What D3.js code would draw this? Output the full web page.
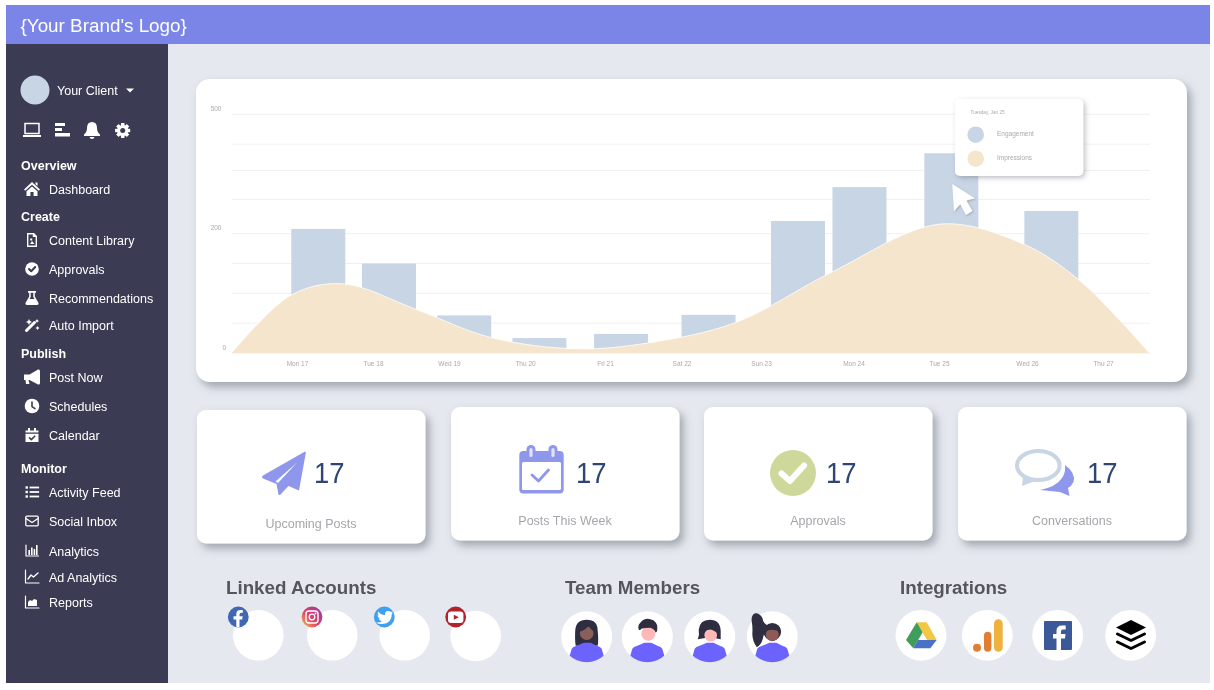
<!DOCTYPE html>
<html><head><meta charset="utf-8">
<script src="https://cdnjs.cloudflare.com/ajax/libs/d3/7.8.5/d3.min.js"></script>
<style>html,body{margin:0;padding:0;background:#fff}svg{display:block;filter:blur(0.3px)}text{font-family:"Liberation Sans",Arial,sans-serif}</style>
</head><body><svg id="c" width="1214" height="690"></svg>
<script>
// ---- data ----
const days=[17,18,19,20,21,22,23,24,25,26,27];
const dayLabels=["Mon 17","Tue 18","Wed 19","Thu 20","Fri 21","Sat 22","Sun 23","Mon 24","Tue 25","Wed 26","Thu 27"];
const barDays=[17.28,18.21,19.2,20.18,21.21,22.34,23.4,24.07,25.14,26.32];
const engagement=[212,150,63,25,32,64,232,317,402,257];
const impressionDays=[16.14,16.92,17.6,18.57,19.55,20.65,21.57,22.68,23.77,25.01,25.97,26.67,27.22,27.61];
const impressions=[0,97,116,73,26,7,17,51,136,224,182,124,55,0];
const gridValues=[0,50,100,150,200,286,359,425,500];
const yTicks=[0,200,500];
const seriesNames=["Engagement","Impressions"];
const cardLabels=["Upcoming Posts","Posts This Week","Approvals","Conversations"];
const cardValues=[17,17,17,17];
const sectionTitles=["Linked Accounts","Team Members","Integrations"];
const navHeads=["Overview","Create","Publish","Monitor"];
const navLabels=["Dashboard","Content Library","Approvals","Recommendations","Auto Import","Post Now","Schedules","Calendar","Activity Feed","Social Inbox","Analytics","Ad Analytics","Reports"];

// ---- layout ----
const navHeadY=[165,216,353,468];
const navY=[189,240,269,298,325,377,406,435,492,521,551,577,602];
const tickX=[297,373,449,525,605,681.5,761,853.5,939,1027,1103];
const C={head:"#7b85e8",side:"#3b3b53",bg:"#e5e8ee",bar:"#c8d5e5",area:"#f5e5cd",grid:"#eef0f3",num:"#2f4574",plane:"#8f97ec"};
const svg=d3.select("#c");
const defs=svg.append("defs");
function shadow(id,dx,dy,b,o){const f=defs.append("filter").attr("id",id).attr("x","-10%").attr("y","-15%").attr("width","125%").attr("height","140%");
 f.append("feDropShadow").attr("dx",dx).attr("dy",dy).attr("stdDeviation",b).attr("flood-color","#5d6470").attr("flood-opacity",o);}
shadow("s1",4,5,4,.5);shadow("s2",2,2,2.5,.4);shadow("s3",1,1,1,.4);
const ig=defs.append("linearGradient").attr("id","ig").attr("x1",0).attr("y1",1).attr("x2",1).attr("y2",0);
[["0","#f9c048"],["0.45","#e0406a"],["1","#8b3aa8"]].forEach(s=>ig.append("stop").attr("offset",s[0]).attr("stop-color",s[1]));

const rect=(g,x,y,w,h,f,r)=>g.append("rect").attr("x",x).attr("y",y).attr("width",w).attr("height",h).attr("fill",f).attr("rx",r||0);
const circ=(g,x,y,r,f)=>g.append("circle").attr("cx",x).attr("cy",y).attr("r",r).attr("fill",f);
const path=(g,d,f)=>g.append("path").attr("d",d).attr("fill",f||"none");
const stroke=(g,d,c,w)=>g.append("path").attr("d",d).attr("fill","none").attr("stroke",c).attr("stroke-width",w).attr("stroke-linecap","round").attr("stroke-linejoin","round");
const text=(g,x,y,s,size,fill,o)=>{o=o||{};return g.append("text").attr("x",x).attr("y",y).attr("dy","0.35em").attr("font-size",size).attr("fill",fill).attr("font-weight",o.w||400).attr("text-anchor",o.a||"start").text(s);};

// ---- frame ----
rect(svg,6,44,1204,639,C.bg);
rect(svg,6,5,1204,39,C.head);
rect(svg,6,44,162,639,C.side);
text(svg,20.5,25.5,"{Your Brand's Logo}",18.85,"#fff");

// ---- sidebar ----
circ(svg,35,90,14.5,C.bar);
text(svg,57,90.8,"Your Client",12.5,"#fff");
path(svg,"M126 88.5H134L130 92.5Z","#fff");
const W="#fff",D=C.side;
const toolRow=svg.append("g");
toolRow.append("rect").attr("x",25).attr("y",123.5).attr("width",14).attr("height",10).attr("fill","none").attr("stroke",W).attr("stroke-width",1.5);
rect(toolRow,23,135,18,2,W);
rect(toolRow,55,123,10,3,W);rect(toolRow,55,128,7,3,W);rect(toolRow,55,133,15,3.5,W);
path(toolRow,"M92 122Q97 122 97 128Q97 132 100 134.5V136H84V134.5Q87 132 87 128Q87 122 92 122Z M89.5 137H94.5Q94 139 92 139Q90 139 89.5 137Z",W);
const gear=toolRow.append("g").attr("transform","translate(122.7,130.5)");
d3.range(8).forEach(i=>gear.append("rect").attr("x",-1.6).attr("y",-7.4).attr("width",3.2).attr("height",14.8).attr("fill",W).attr("transform",`rotate(${i*45})`));
circ(gear,0,0,5.6,W);circ(gear,0,0,2.5,D);

const icons=[
 g=>{path(g,"M-8 0.5L0-7L8 0.5L6.8 1.8L0-4.2L-6.8 1.8Z M-5.5 2.2L0-2.6L5.5 2.2V7H1.6V3H-1.6V7H-5.5Z M3.5-6.5H5.5V-3L3.5-4.7Z",W);},
 g=>{path(g,"M-5-7H2L5-4V7H-5Z",W);path(g,"M-3.6-5.6V5.6H3.6V-3H0.8V-5.6Z",D);path(g,"M-2 4L0 1L2.5 4Z M-1.8-1.5h2v2h-2Z",W);},
 g=>{circ(g,0,0,6.8,W);stroke(g,"M-3 0L-0.8 2.3L3.2-2",D,2);},
 g=>{path(g,"M-4-7H4V-5.3H2.8V-1.5L6.5 5Q7 7 5 7H-5Q-7 7-6.5 5L-2.8-1.5V-5.3H-4Z",W);path(g,"M-1.3-5.3H1.3V-1L2.5 1H-2.5L-1.3-1Z",D);},
 g=>{stroke(g,"M-5.5 5.5L2.5-2.5",W,3);path(g,"M-3-6l1 2 2 1-2 1-1 2-1-2-2-1 2-1Z M5-6l.7 1.3 1.3.7-1.3.7L5-2l-.7-1.3L3-4l1.3-.7Z M5.5 1l.7 1.3 1.3.7-1.3.7-.7 1.3-.7-1.3-1.3-.7 1.3-.7Z",W);},
 g=>{path(g,"M-8-2.5H-2.5L6-7.5Q8-8 8-6V6Q8 8 6 7.5L-2.5 3H-3.5L-2.5 7H-6L-6.5 3H-8Z",W);path(g,"M5.2-5V5L-1.5 1.5V-1.5Z",W);},
 g=>{circ(g,0,0,7.3,W);stroke(g,"M0-4V0.6L3 2.6",D,1.6);},
 g=>{path(g,"M-6.5-4.5H-4V-7H-2V-4.5H2V-7H4V-4.5H6.5V-2.5H-6.5Z M-6.5-1.2H6.5V7H-6.5Z",W);stroke(g,"M-2.5 2.8L-0.7 4.6L2.7 1.2",D,1.6);},
 g=>{[-4.5,0,4.5].forEach(y=>{rect(g,-6.5,y-1.2,2.4,2.4,W);rect(g,-2.4,y-0.9,9.5,1.8,W);});},
 g=>{g.append("rect").attr("x",-6.2).attr("y",-4.8).attr("width",12.4).attr("height",9.6).attr("rx",1).attr("fill","none").attr("stroke",W).attr("stroke-width",1.3);stroke(g,"M-6-2.5L0 1.5L6-2.5",W,1.3);},
 g=>{stroke(g,"M-6-6V5H6.5",W,1.2);[-3.6,-1,1.6,4].forEach((x,i)=>rect(g,x,[-1,-3.5,-2,-6][i],1.6,[5,7.5,6,10][i],W));},
 g=>{stroke(g,"M-6.5-7V6H7",W,1.2);stroke(g,"M-4 2L-1-2L1.5 0L6-4",W,1.4);},
 g=>{stroke(g,"M-6.5-6V6H7",W,1.2);path(g,"M-4 4V0L-2-2L0-1L2-3L5-2V4Z",W);}
];
navHeads.forEach((h,i)=>text(svg,21,navHeadY[i]+0.8,h,12.5,"#fff",{w:700}));
navLabels.forEach((l,i)=>{text(svg,49,navY[i]+0.8,l,12.5,"#fff");icons[i](svg.append("g").attr("transform",`translate(32,${navY[i]})`));});

// ---- chart card ----
rect(svg,196,79,991,303,"#fff",14).attr("filter","url(#s1)");
const y=d3.scaleLinear().domain([0,200,500]).range([353,233.7,114.3]);
const x=d3.scaleLinear().domain(days).range(tickX);
const chart=svg.append("g");
chart.selectAll("line.g").data(gridValues).join("line").attr("class","g")
 .attr("x1",232).attr("x2",1150).attr("y1",d=>y(d)).attr("y2",d=>y(d)).attr("stroke",C.grid).attr("stroke-width",1);
const barW=54;
chart.selectAll("rect.b").data(engagement).join("rect").attr("class","b")
 .attr("x",(d,i)=>x(barDays[i])-barW/2).attr("width",barW)
 .attr("y",d=>y(d)).attr("height",d=>y(0)-y(d)).attr("fill",C.bar);
const smooth=d3.curveCatmullRom.alpha(0.5);
const area=d3.area().x((d,i)=>x(impressionDays[i])).y0(y(0)).y1(d=>y(d)).curve(smooth);
const topLine=d3.line().x((d,i)=>x(impressionDays[i])).y(d=>y(d)).curve(smooth);
chart.append("path").attr("d",area(impressions)).attr("fill",C.area);
chart.append("path").attr("d",topLine(impressions)).attr("fill","none").attr("stroke","#fff").attr("stroke-width",.8);

const xAxis=chart.append("g").attr("transform","translate(0,361)").call(d3.axisBottom(x).tickValues(days).tickSize(0).tickPadding(0).tickFormat((d,i)=>dayLabels[i]));
xAxis.select(".domain").remove();
xAxis.selectAll("text").attr("font-size",6.5).attr("fill","#a9a9a9").attr("font-family",'"Liberation Sans",Arial,sans-serif').attr("dy","0.71em");
const yAxis=chart.append("g").attr("transform","translate(221.5,-6)").call(d3.axisLeft(y).tickValues(yTicks).tickSize(0).tickPadding(0));
yAxis.select(".domain").remove();
yAxis.selectAll("text").attr("font-size",6.5).attr("fill","#a9a9a9").attr("font-family",'"Liberation Sans",Arial,sans-serif');
yAxis.selectAll(".tick").filter(d=>d===0).select("text").attr("x",4.5);

// tooltip legend
rect(svg,955,99,128.3,77,"#fff",5).attr("filter","url(#s2)");
text(svg,970.5,112,"Tuesday, Jan 25",4.7,"#aaa");
seriesNames.forEach((n,i)=>{const cy=134.7+i*24;circ(svg,975.7,cy,8.3,i?C.area:C.bar);text(svg,997,cy-1,n,6.5,"#aaa");});
svg.append("path").attr("d","M952.3 184L975 198.3L966.4 200.4L972.4 211L966 215L960.2 204.3L954 211.3Z").attr("fill","#fff").attr("filter","url(#s3)");

// ---- stat cards ----
const cardX=[197,451,704,958],cardTop=[410,407,407,407],cardW=228.5,cardH=133.5;
const numX=[314,576,826,1087],labX=[311,565,818,1072];
cardLabels.forEach((l,i)=>{
 rect(svg,cardX[i],cardTop[i],cardW,cardH,"#fff",9).attr("filter","url(#s1)");
 text(svg,labX[i],cardTop[i]+113.5,l,12.5,"#a6a6ab",{a:"middle"});
 svg.append("text").attr("x",numX[i]).attr("y",483).attr("font-size",30).attr("fill",C.num)
  .attr("textLength",30.5).attr("lengthAdjust","spacingAndGlyphs").text(cardValues[i]);
});
// plane
path(svg,"M305 451.5Q306 451.5 305.8 453L299 490.5L288.5 486L280.5 494.5Q278.5 496 278.3 493.5L276.5 484L263 478.5Q261 477 263 475.5Z",C.plane);
path(svg,"M297 462.5L275.5 481.5L278 483Z","#fff");
// calendar
rect(svg,519.3,451,44.4,42.6,C.plane,4);rect(svg,522,462,39,28,"#fff",1.5);
[531,553].forEach(cx=>{rect(svg,cx-4.5,445,9,14,C.plane,4.5);rect(svg,cx-1.6,448,3.2,9,"#dfe2f8",1.6);});
stroke(svg,"M532 475L538.5 481L548.5 470",C.plane,2.8);
// approvals
circ(svg,793,473,23,"#cfd89b");
stroke(svg,"M781.5 473.5L790 481L804 465.5","#fff",6);
// conversations
path(svg,"M1065 465Q1076 473 1073.5 482Q1071.5 486 1068 488L1069.5 496L1060 492Q1050 491 1040 490Q1056 487 1062 478Q1066 472 1065 465Z",C.plane);
svg.append("ellipse").attr("cx",1038.3).attr("cy",465.5).attr("rx",21.3).attr("ry",14.5).attr("fill","#fff").attr("stroke",C.bar).attr("stroke-width",4);
path(svg,"M1023 476L1022 486L1035 481Z",C.bar);

// ---- bottom sections ----
const secX=[226,565,900];
sectionTitles.forEach((t,i)=>text(svg,secX[i],587,t,18.75,"#55565c",{w:700}));
[[258.3,635.3],[332.3,635.3],[404.7,635.3],[475.7,636]].forEach(c=>circ(svg,c[0],c[1],25.3,"#fff"));
const sy=617;
circ(svg,238.3,sy,10.4,"#4267b2");
path(svg,"M239.5 627.3V619.5H242.2L242.7 616.3H239.5V614.5Q239.5 612.7 241.3 612.7H242.8V610H240.4Q236.3 610 236.3 614V616.3H233.5V619.5H236.3V627.3Z","#fff");
circ(svg,312,sy,10.4,"url(#ig)");
svg.append("rect").attr("x",306).attr("y",611).attr("width",12).attr("height",12).attr("rx",3).attr("fill","none").attr("stroke","#fff").attr("stroke-width",1.4);
svg.append("circle").attr("cx",312).attr("cy",617).attr("r",2.8).attr("fill","none").attr("stroke","#fff").attr("stroke-width",1.3);
circ(svg,315.5,613.5,.9,"#fff");
circ(svg,384.3,sy,10.4,"#3f9ff0");
path(svg,"M376 622.5Q380 623 382 621Q379 620.5 378.5 618.5L380 618.4Q377.5 617.5 377.5 615L379 615.5Q377 613.5 378 611.5Q381 615 385 615Q384.8 611 388 611Q390 611 391 612L392.8 611.3L391.6 613L393 612.7L391.8 614.3Q391.8 623.5 382.5 624Q378.5 624.2 376 622.5Z","#fff");
circ(svg,455.7,sy,10.4,"#b0232a");
rect(svg,448,611.5,15.4,11.5,"#fff",3);
path(svg,"M453.8 614.8L458.8 617.2L453.8 619.7Z","#b0232a");

// team
const cl=defs.append("clipPath").attr("id","tc");cl.append("circle").attr("r",25.5);
const teamX=[586.7,647.3,709.7,772.3];
const ink="#2f2e41",bodyCol="#6c63ff";
teamX.forEach((cx,i)=>{
 const a=svg.append("g").attr("transform",`translate(${cx},636.7)`);
 circ(a,0,0,25.5,"#fff");
 const g=a.append("g").attr("clip-path","url(#tc)");
 const b=()=>path(g,"M-17 30V19L-15 12Q-14 10-10 9Q-5 7-3 6H4Q6 7 10 9Q14 10 15 12L17 19V30Z",bodyCol);
 if(i===0){path(g,"M0-17Q-11-17-11.5-6Q-12 3-11 9H11Q12 3 11-6Q11-17 0-17Z",ink);circ(g,0,-3.5,6.8,"#8a5f5b");path(g,"M-7.5-5Q-6-14 0-14Q7-14 7.5-5Q4-7 2-11Q-2-6-7.5-5Z",ink);b();}
 if(i===1){circ(g,1,-3,7,"#ffb8b8");path(g,"M-8.5-7Q-10-11-7-14Q-3-19 3-17.5Q10-16 10-9Q10.5-6 8.5-4Q7-8 3-9Q-3-9-6-8Q-7-6-8.5-7Z",ink);b();}
 if(i===2){path(g,"M0-17Q10.5-17 11-6V2.5L3 1H-3L-12 2.5Q-10-2-11-7Q-10-17 0-17Z",ink);circ(g,1,-1.5,6.3,"#ffb8b8");path(g,"M-7-4Q-6-13 1-13Q7-13 8-4L2-7Q-3-8-7-4Z",ink);b();}
 if(i===3){path(a,"M-4-11Q-9-13-10-19Q-13-24-17-23.5Q-21.5-22-20.5-15Q-19.5-9-20-3Q-20 4-15.5 10.5Q-11 8-9.5 2Q-8-4-7-7Z",ink);circ(g,0,-5,8.8,ink);circ(g,0,-2,6.5,"#8f5a55");path(g,"M-8.5-4Q-8-13 0-13Q8-13 8.7-4Q4-7 0-7Q-5-7-8.5-4Z",ink);b();}
});

// integrations
[921,987.3,1057.7,1130.7].forEach(cx=>circ(svg,cx,635.3,25.4,"#fff"));
path(svg,"M916.7 622.3L906 640L913.3 648.3L924 630Z","#3f9e5c");
path(svg,"M916.7 622.3H926.7L936.7 640H927Z","#f2c744");
path(svg,"M913.3 648.3H930.3L936.7 640H918Z","#4a72c4");
rect(svg,994,619.3,8.7,32.4,"#f0b23f",4.3);
rect(svg,984,631.7,7.4,20,"#e07f32",3.7);
circ(svg,977,647.7,4,"#e07f32");
rect(svg,1044,621,28,29,"#3b5998",1);
path(svg,"M1061 650V638.5H1065L1065.5 634H1061V631.5Q1061 629.5 1063 629.5H1065.7V625.5H1062Q1056.5 625.5 1056.5 631V634H1053V638.5H1056.5V650Z","#fff");
path(svg,"M1131 620L1146 627.5L1131 635L1116 627.5Z","#000");
stroke(svg,"M1117.5 634L1131 640.5L1144.5 634","#000",3);
stroke(svg,"M1117.5 642L1131 648.5L1144.5 642","#000",3);
</script></body></html>
